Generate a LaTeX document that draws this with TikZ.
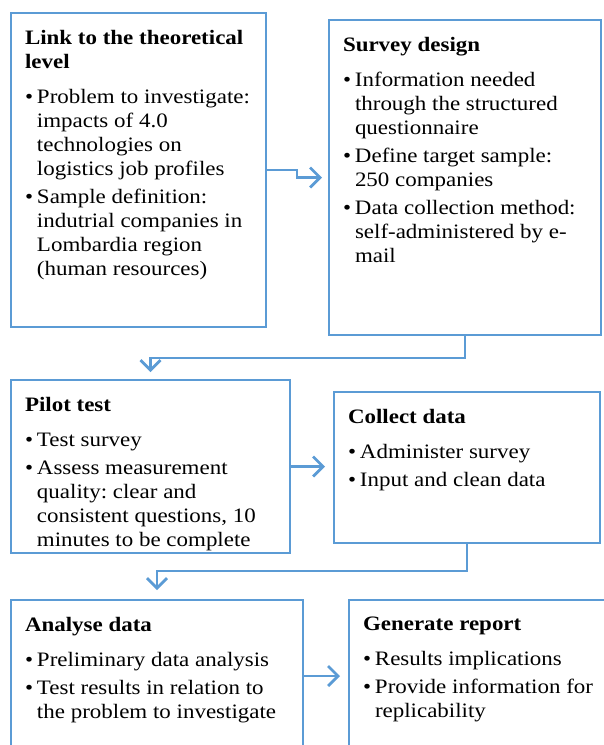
\documentclass[tikz,border=0pt]{standalone}
\usepackage{fontspec}
\setmainfont{Liberation Serif}[FakeStretch=1.12]
\usepackage{xcolor}
\usepackage{tikz}
\usetikzlibrary{arrows.meta}

\definecolor{boxblue}{RGB}{91,155,213}
\frenchspacing
\newcommand{\stagetext}[3]{\parbox[c][#2][t]{#1}{\fontsize{20.5}{24}\selectfont\raggedright\parskip=4pt #3}}
\newcommand{\bul}[1]{\par\hangindent=12pt\hangafter=1\noindent\makebox[12pt][l]{\textbullet}#1}
\newcommand{\head}[1]{\noindent\textbf{#1}\par\vspace{7pt}}

\begin{document}
\begin{tikzpicture}[x=1pt,y=-1pt,
  stage/.style={draw=boxblue,line width=2.8pt,inner xsep=14pt,inner ysep=17pt,outer sep=0pt,anchor=north west},
  flow/.style={draw=boxblue,line width=2.8pt,-{Straight Barb[length=10pt,width=20pt]}}]
\useasboundingbox (0,0) rectangle (603,745);
\node (link) at (11,13) [stage] {\stagetext{227pt}{280pt}{\head{Link to the theoretical\newline level}
  \bul{Problem to investigate:\newline impacts of 4.0\newline technologies on\newline logistics job profiles}
  \bul{Sample definition:\newline indutrial companies in\newline Lombardia region\newline (human resources)}}};
\node (design) at (329,20) [stage] {\stagetext{244pt}{281pt}{\head{Survey design}
  \bul{Information needed\newline through the structured\newline questionnaire}
  \bul{Define target sample:\newline 250 companies}
  \bul{Data collection method:\newline self-administered by e-\newline mail}}};
\node (pilot) at (11,380) [stage] {\stagetext{251pt}{139pt}{\head{Pilot test}
  \bul{Test survey}
  \bul{Assess measurement\newline quality: clear and\newline consistent questions, 10\newline minutes to be complete}}};
\node (collect) at (334,392) [stage] {\stagetext{238pt}{117pt}{\head{Collect data}
  \bul{Administer survey}
  \bul{Input and clean data}}};
\node (analyse) at (11,600) [stage] {\stagetext{264pt}{118pt}{\head{Analyse data}
  \bul{Preliminary data analysis}
  \bul{Test results in relation to\newline the problem to investigate}}};
\node (report) at (349,600) [stage] {\stagetext{242pt}{118pt}{\head{Generate report}
  \bul{Results implications}
  \bul{Provide information for\newline replicability}}};
\draw[flow] (link.east) -- ++(31,0) |- ([xshift=-7pt]design.west);
\draw[flow] (design.south) -- ++(0,23) -| ([yshift=8pt]pilot.north);
\draw[flow] (pilot.east) -- ([xshift=-9pt]pilot.east -| collect.west);
\draw[flow] (collect.south) -- ++(0,28) -| ([yshift=10pt]analyse.north);
\draw[flow] (analyse.east) -- ([xshift=-9pt]analyse.east -| report.west);
\end{tikzpicture}
\end{document}
